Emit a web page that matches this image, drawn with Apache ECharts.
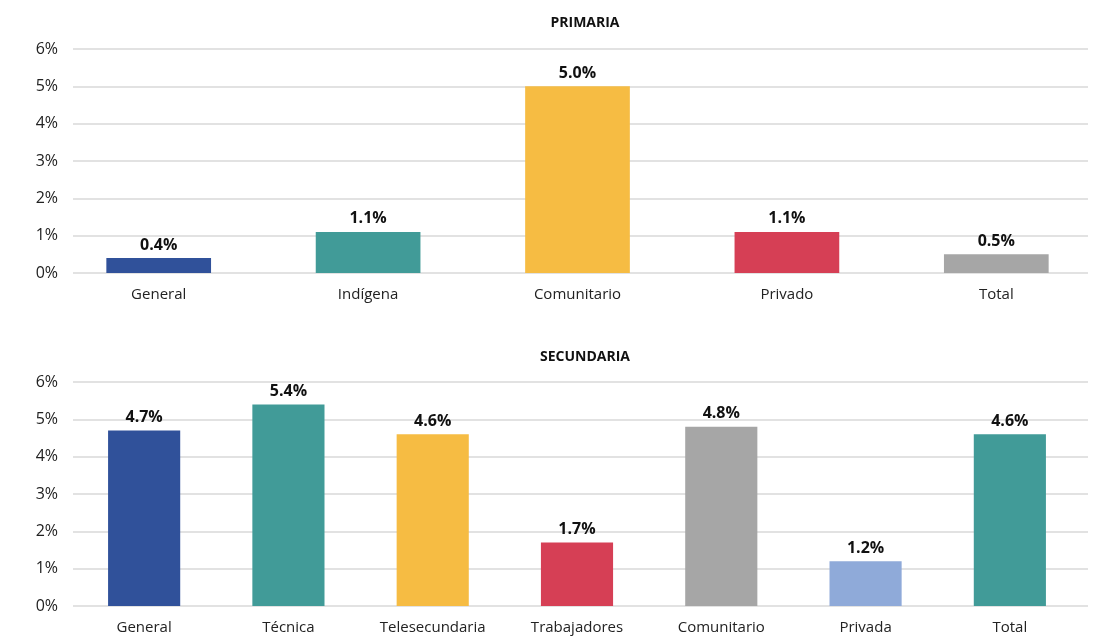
<!DOCTYPE html>
<html>
<head>
<meta charset="utf-8">
<title>Primaria / Secundaria</title>
<script src="https://cdn.jsdelivr.net/npm/echarts@6/dist/echarts.min.js"></script>
<style>
  html, body { margin: 0; padding: 0; background: #fff; }
  #chart { width: 1101px; height: 638px; }
</style>
</head>
<body>
<div id="chart"></div>
<script>
// datos
const primariaCats = ["General", "Indígena", "Comunitario", "Privado", "Total"];
const primariaVals = [0.4, 1.1, 5.0, 1.1, 0.5];
const primariaColors = ["#30519a", "#419b98", "#f6bc43", "#d63f55", "#a6a6a6"];

const secundariaCats = ["General", "Técnica", "Telesecundaria", "Trabajadores", "Comunitario", "Privada", "Total"];
const secundariaVals = [4.7, 5.4, 4.6, 1.7, 4.8, 1.2, 4.6];
const secundariaColors = ["#30519a", "#419b98", "#f6bc43", "#d63f55", "#a6a6a6", "#8faad9", "#419b98"];

const yTicks = [0, 1, 2, 3, 4, 5, 6];

const font = "'Open Sans', 'Noto Sans', sans-serif";
const gridColor = "#d9d9d9";

function barData(vals, colors) {
  return vals.map((v, i) => ({ value: v, itemStyle: { color: colors[i] } }));
}

// eje de fondo (lineas y etiquetas %)
function bgY(gridIndex) {
  return {
    type: "value",
    gridIndex: gridIndex,
    min: yTicks[0],
    max: yTicks[yTicks.length - 1],
    interval: 1,
    axisLine: { show: false },
    axisTick: { show: false },
    axisLabel: {
      formatter: "{value}%",
      color: "#222",
      fontSize: 16,
      fontFamily: font,
      margin: 15,
    },
    splitLine: { lineStyle: { color: gridColor, width: 1.5 } },
  };
}

function barY(gridIndex) {
  return {
    type: "value",
    gridIndex: gridIndex,
    min: yTicks[0],
    max: yTicks[yTicks.length - 1],
    show: false,
    splitLine: { show: false },
  };
}

function bgX(gridIndex) {
  return { type: "value", gridIndex: gridIndex, show: false };
}

function catX(gridIndex, cats) {
  return {
    type: "category",
    gridIndex: gridIndex,
    data: cats,
    axisLine: { show: false },
    axisTick: { show: false },
    axisLabel: {
      color: "#222",
      fontSize: 15,
      fontFamily: font,
      margin: 14,
      interval: 0,
    },
  };
}

const labelStyle = {
  show: true,
  position: "top",
  distance: 5,
  formatter: (p) => p.value.toFixed(1) + "%",
  color: "#111",
  fontSize: 16,
  fontWeight: "bold",
  fontFamily: font,
};

let myChart = echarts.init(document.getElementById("chart"));
myChart.setOption({
  animation: false,
  title: [
    {
      text: "PRIMARIA",
      left: 580,
      top: 11,
      textAlign: "center",
      textStyle: { fontSize: 14, fontWeight: "bold", color: "#111", fontFamily: font },
    },
    {
      text: "SECUNDARIA",
      left: 580,
      top: 345,
      textAlign: "center",
      textStyle: { fontSize: 14, fontWeight: "bold", color: "#111", fontFamily: font },
    },
  ],
  grid: [
    { left: 73, right: 13, top: 49, bottom: 365 },
    { left: 54, right: -8, top: 49, bottom: 365 },
    { left: 73, right: 13, top: 382, bottom: 32 },
    { left: 72, right: 19, top: 382, bottom: 32 },
  ],
  xAxis: [bgX(0), catX(1, primariaCats), bgX(2), catX(3, secundariaCats)],
  yAxis: [bgY(0), barY(1), bgY(2), barY(3)],
  series: [
    {
      name: "Primaria",
      type: "bar",
      xAxisIndex: 1,
      yAxisIndex: 1,
      barWidth: "50%",
      data: barData(primariaVals, primariaColors),
      label: labelStyle,
    },
    {
      name: "Secundaria",
      type: "bar",
      xAxisIndex: 3,
      yAxisIndex: 3,
      barWidth: "50%",
      data: barData(secundariaVals, secundariaColors),
      label: labelStyle,
    },
  ],
});
</script>
</body>
</html>
